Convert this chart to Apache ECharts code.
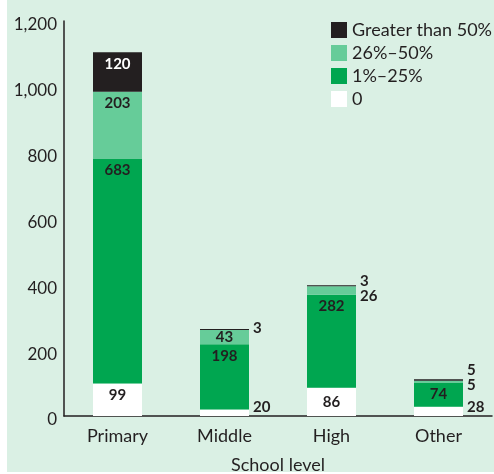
<!DOCTYPE html>
<html>
<head>
<meta charset="utf-8">
<script src="https://cdn.jsdelivr.net/npm/echarts@6/dist/echarts.min.js"></script>
<style>
  html, body { margin: 0; padding: 0; background: #ffffff; }
  #chart { width: 494px; height: 474px; }
</style>
</head>
<body>
<div id="chart"></div>
<script>
// school levels and counts per share band
const categories = ['Primary', 'Middle', 'High', 'Other']
const seriesNames = ['0', '1%–25%', '26%–50%', 'Greater than 50%']
const zeroShare = [99, 20, 86, 28]
const lowShare = [683, 198, 282, 74]
const midShare = [203, 43, 26, 5]
const highShare = [120, 3, 3, 5]
const yTicks = [0, 200, 400, 600, 800, 1000, 1200]

const colors = ['#ffffff', '#00a650', '#66cc99', '#231f20']
const ink = '#231f20'
const font = 'Lato'

// where each value label goes (null = inside top of the segment)
const right = dy => ({ position: 'right', distance: 4, offset: [0, dy] })
const inside = { position: 'inside' }
const labelSpots = [
  [null, right(-6), inside, right(-4)],
  [null, null, null, inside],
  [null, inside, right(6), right(4)],
  [{ color: '#ffffff' }, right(-1), right(-5), right(-10)]
]

function makeData (values, spots) {
  return values.map((v, i) => spots[i] ? { value: v, label: spots[i] } : v)
}

const allValues = [zeroShare, lowShare, midShare, highShare]
const series = allValues.map((vals, k) => ({
  name: seriesNames[k],
  type: 'bar',
  stack: 'total',
  barWidth: 49,
  itemStyle: { color: colors[k] },
  label: {
    show: true,
    position: 'insideTop',
    distance: 4,
    fontFamily: font,
    fontWeight: 'bold',
    fontSize: 15,
    color: ink
  },
  data: makeData(vals, labelSpots[k])
}))

const chart = echarts.init(document.getElementById('chart'))
chart.setOption({
  animation: false,
  textStyle: { fontFamily: font, color: ink },
  graphic: [{
    type: 'rect',
    z: -10,
    shape: { x: 7, y: 0, width: 487, height: 472 },
    style: { fill: '#daf0e4' }
  }],
  grid: { left: 64, right: 2, top: 21, bottom: 58, outerBoundsMode: 'none' },
  legend: {
    orient: 'vertical',
    left: 326,
    top: 16,
    itemWidth: 16,
    itemHeight: 16,
    itemGap: 5,
    icon: 'rect',
    data: seriesNames.slice().reverse(),
    textStyle: { fontFamily: font, fontSize: 18, lineHeight: 16, color: ink }
  },
  xAxis: {
    type: 'category',
    data: categories,
    name: 'School level',
    nameLocation: 'middle',
    nameGap: 40,
    nameTextStyle: { fontFamily: font, fontSize: 18, color: ink },
    axisLine: { lineStyle: { color: ink, width: 1.5 } },
    axisTick: { show: false },
    axisLabel: { fontFamily: font, fontSize: 18, color: ink, margin: 11 }
  },
  yAxis: {
    type: 'value',
    min: yTicks[0],
    max: yTicks[yTicks.length - 1],
    interval: yTicks[1] - yTicks[0],
    axisLine: { show: true, lineStyle: { color: ink, width: 1.5 } },
    axisTick: { show: false },
    splitLine: { show: false },
    axisLabel: {
      fontFamily: font,
      fontSize: 17,
      color: ink,
      margin: 7,
      verticalAlign: 'top',
      lineHeight: 8,
      formatter: v => v.toLocaleString('en-US')
    }
  },
  series: series
})
</script>
</body>
</html>
